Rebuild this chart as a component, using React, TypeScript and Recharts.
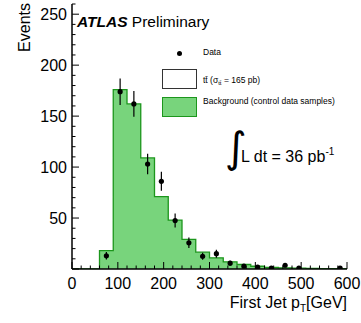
import React from "react";
import {
  ComposedChart,
  Area,
  Scatter,
  ErrorBar,
  XAxis,
  YAxis,
} from "recharts";

// histogram bins, 30 GeV wide, lower edges
const binLow = [0, 30, 60, 90, 120, 150, 180, 210, 240, 270, 300, 330, 360, 390, 420, 450, 480, 510, 540, 570];
const bgValues = [0, 0, 18, 176, 162, 109, 71, 48, 29, 16.5, 11, 7, 4.4, 2.7, 1.5, 1.2, 0.8, 0.6, 0.4, 0.3];

// data points (bin centres)
const dataX = [75, 105, 135, 165, 195, 225, 255, 285, 315, 345, 375, 405, 435, 465, 495, 585];
const dataY = [13, 174, 162, 103, 86, 47.5, 25.7, 12.5, 15, 5.7, 2.8, 1.8, 0.8, 3.7, 1, 1];
const dataErr = [3.6, 13, 12.7, 10, 9.3, 6.9, 5.1, 3.5, 3.9, 2.4, 1.7, 1.3, 0.9, 1.9, 1, 1];

const xTicks = [0, 20, 40, 60, 80, 100, 120, 140, 160, 180, 200, 220, 240, 260, 280, 300, 320, 340, 360, 380, 400, 420, 440, 460, 480, 500, 520, 540, 560, 580, 600];
const yTicks = [0, 10, 20, 30, 40, 50, 60, 70, 80, 90, 100, 110, 120, 130, 140, 150, 160, 170, 180, 190, 200, 210, 220, 230, 240, 250, 260];

const bgSteps = [
  ...binLow.map((x, i) => ({ x, bg: bgValues[i] })),
  { x: 600, bg: bgValues[bgValues.length - 1] },
];
const points = dataX.map((x, i) => ({ x, y: dataY[i], err: dataErr[i] }));

const FONT = "'Liberation Sans', Arial, Helvetica, sans-serif";
const MAJOR = 7;
const MINOR = 3.5;

const BottomTick = (props: any) => {
  const { x, y, payload } = props;
  const major = payload.value % 100 === 0;
  return (
    <g>
      <line x1={x} x2={x} y1={y} y2={y - (major ? MAJOR : MINOR)} stroke="#000" />
      {major && (
        <text x={x} y={y + 19.5} textAnchor="middle" fontSize={16} fontFamily={FONT} fill="#000">
          {payload.value}
        </text>
      )}
    </g>
  );
};

const TopTick = (props: any) => {
  const { x, y, payload } = props;
  const major = payload.value % 100 === 0;
  return <line x1={x} x2={x} y1={y} y2={y + (major ? MAJOR : MINOR)} stroke="#000" />;
};

const LeftTick = (props: any) => {
  const { x, y, payload } = props;
  const v = payload.value;
  const major = v % 50 === 0;
  return (
    <g>
      <line x1={x} x2={x + (major ? MAJOR : MINOR)} y1={y} y2={y} stroke="#000" />
      {major && v > 0 && (
        <text x={x - 5} y={y + 5.5} textAnchor="end" fontSize={16} fontFamily={FONT} fill="#000">
          {v}
        </text>
      )}
    </g>
  );
};

const RightTick = (props: any) => {
  const { x, y, payload } = props;
  const major = payload.value % 50 === 0;
  return <line x1={x} x2={x - (major ? MAJOR : MINOR)} y1={y} y2={y} stroke="#000" />;
};

const Dot = (props: any) => {
  const { cx, cy } = props;
  return <circle cx={cx} cy={cy} r={2.6} fill="#000" />;
};

export default function App() {
  return (
    <div style={{ position: "absolute", left: 0, top: 0, width: 361, height: 323, fontFamily: FONT, background: "#fff" }}>
      <ComposedChart width={361} height={323} margin={{ top: 4, right: 14, bottom: 0, left: 0 }}>
        <XAxis
          xAxisId="b"
          type="number"
          dataKey="x"
          domain={[0, 600]}
          ticks={xTicks}
          interval={0}
          height={54}
          tickSize={0}
          tickMargin={0}
          tickLine={false}
          tick={<BottomTick />}
          axisLine={{ stroke: "#000", strokeWidth: 1.5 }}
          allowDataOverflow
        />
        <XAxis
          xAxisId="t"
          orientation="top"
          type="number"
          dataKey="x"
          domain={[0, 600]}
          ticks={xTicks}
          interval={0}
          height={0}
          tickSize={0}
          tickMargin={0}
          tickLine={false}
          tick={<TopTick />}
          axisLine={{ stroke: "#000", strokeWidth: 1.5 }}
          allowDataOverflow
        />
        <YAxis
          yAxisId="l"
          type="number"
          domain={[0, 260]}
          ticks={yTicks}
          interval={0}
          width={72}
          tickSize={0}
          tickMargin={0}
          tickLine={false}
          tick={<LeftTick />}
          axisLine={{ stroke: "#000", strokeWidth: 1.5 }}
          allowDataOverflow
        />
        <YAxis
          yAxisId="r"
          orientation="right"
          type="number"
          domain={[0, 260]}
          ticks={yTicks}
          interval={0}
          width={0}
          tickSize={0}
          tickMargin={0}
          tickLine={false}
          tick={<RightTick />}
          axisLine={{ stroke: "#000", strokeWidth: 1.5 }}
          allowDataOverflow
        />
        <Area
          xAxisId="b"
          yAxisId="l"
          data={bgSteps}
          dataKey="bg"
          type="stepAfter"
          fill="#78d47c"
          fillOpacity={1}
          stroke="#1c961c"
          strokeWidth={1.3}
          isAnimationActive={false}
          dot={false}
          activeDot={false}
        />
        <Scatter
          xAxisId="b"
          yAxisId="l"
          data={points}
          dataKey="y"
          shape={<Dot />}
          isAnimationActive={false}
        >
          <ErrorBar dataKey="err" direction="y" width={0} stroke="#000" strokeWidth={1.2} />
        </Scatter>
      </ComposedChart>

      {/* y title, reads bottom to top, flush with the top */}
      <div
        style={{
          position: "absolute",
          left: 16,
          top: 3,
          fontSize: 16,
          lineHeight: "18px",
          writingMode: "vertical-rl",
          transform: "rotate(180deg)",
          whiteSpace: "nowrap",
        }}
      >
        Events
      </div>

      {/* x title */}
      <div style={{ position: "absolute", right: 14, top: 294, fontSize: 16, whiteSpace: "nowrap", lineHeight: "18px" }}>
        First Jet p<sub style={{ fontSize: 10, verticalAlign: -4 }}>T</sub>[GeV]
      </div>

      {/* ATLAS label */}
      <div style={{ position: "absolute", left: 77, top: 13, fontSize: 15.5, whiteSpace: "nowrap", lineHeight: "18px" }}>
        <b><i>ATLAS</i></b> Preliminary
      </div>

      {/* legend */}
      <div style={{ position: "absolute", left: 176.5, top: 50.5, width: 5, height: 5, borderRadius: "50%", background: "#000" }} />
      <div style={{ position: "absolute", left: 203, top: 47, fontSize: 8.5, lineHeight: "10px" }}>Data</div>
      <div style={{ position: "absolute", left: 162, top: 69, width: 33, height: 18, border: "1px solid #333", background: "#fff" }} />
      <div style={{ position: "absolute", left: 203, top: 75, fontSize: 8.5, lineHeight: "10px", whiteSpace: "nowrap" }}>
        {"tt\u0304"} (σ<sub style={{ fontSize: 6, verticalAlign: -2 }}>{"tt\u0304"}</sub> = 165 pb)
      </div>
      <div style={{ position: "absolute", left: 162, top: 97, width: 33, height: 18, border: "1px solid #1c961c", background: "#78d47c" }} />
      <div style={{ position: "absolute", left: 203, top: 96, fontSize: 8.5, lineHeight: "10px", whiteSpace: "nowrap" }}>
        Background (control data samples)
      </div>

      {/* luminosity */}
      <div style={{ position: "absolute", left: 225, top: 125, fontSize: 42, lineHeight: "46px", fontFamily: "'DejaVu Sans', sans-serif" }}>∫</div>
      <div style={{ position: "absolute", left: 241, top: 142, fontSize: 16, lineHeight: "20px", whiteSpace: "nowrap" }}>
        L dt = 36 pb<sup style={{ fontSize: 10, verticalAlign: 7 }}>-1</sup>
      </div>
    </div>
  );
}
